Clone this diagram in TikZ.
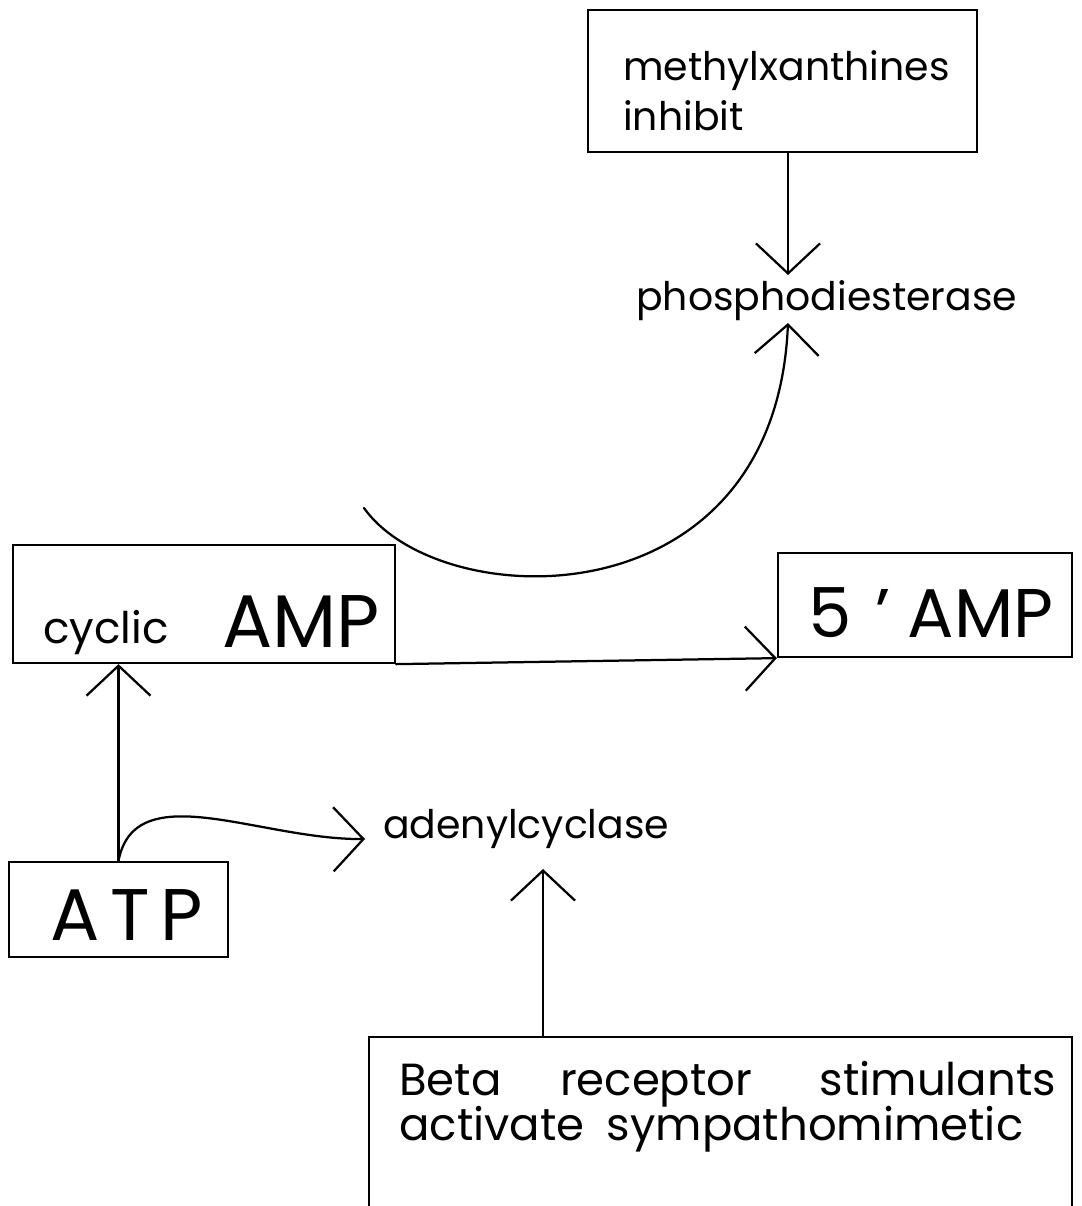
\documentclass[tikz,border=0pt]{standalone}
\usepackage{fontspec}
\setmainfont{Poppins}
\usepackage{tikz}
\usetikzlibrary{arrows.meta,positioning,fit}
\tikzstyle{cbox} = [draw, line width=1.6pt, inner sep=0pt]
\tikzstyle{clbl} = [inner sep=0pt, anchor=base west, font=\fontsize{28}{30}\selectfont]
\tikzstyle{cbig} = [inner sep=0pt, anchor=base west, font=\fontsize{50}{54}\selectfont]
\tikzstyle{clink} = [draw, line width=1.6pt, line cap=round, -{Straight Barb[length=0.75cm, width=1.6cm]}]
\newcommand{\cascbox}[3]{% #1: name; #2: top left; #3: bottom right
  \node[cbox, fit={#2 #3}] (#1) {};
}

\begin{document}
\begin{tikzpicture}[x=0.025cm, y=-0.025cm]
        % 
        \useasboundingbox (0,0) rectangle (1082,1206);
        \fill[white] (0,0) rectangle (1082,1206);
        \cascbox{mxbox}{(588,10)}{(977,152)}
        \cascbox{camp}{(13,545)}{(395,663)}
        \cascbox{amp5}{(778,553)}{(1072,657)}
        \cascbox{atp}{(9,862)}{(228,957)}
        \cascbox{beta}{(369,1037)}{(1072,1240)}
        \node[clbl] (mxa) at (623,80) {methylxanthines};
        \node[clbl] (mxb) at (623,130) {inhibit};
        \node[clbl] (pde) at (636,310) {phosphodiesterase};
        \node[clbl, font=\fontsize{31}{33}\selectfont] (cyc) at (43,643) {cyclic};
        \node[cbig, font=\fontsize{53}{56}\selectfont] (campt) at (222,647) {AMP};
        \node[cbig, font=\fontsize{49}{52}\selectfont] (amp5t) at (808,637) {5\hspace{0.35em}'\hspace{0.25em}AMP};
        \node[cbig, font=\fontsize{52}{56}\selectfont] (atpt) at (50,940) {A\hspace{0.15em}T\hspace{0.15em}P};
        \node[clbl] (adc) at (383,838) {adenylcyclase};
        \node[clbl, font=\fontsize{32}{34}\selectfont] (betaa) at (399,1095) {Beta\hspace{1.3em}receptor\hspace{1.5em}stimulants};
        \node[clbl, font=\fontsize{32}{34}\selectfont] (betab) at (399,1140) {activate\hspace{0.5em}sympathomimetic};
        \coordinate (pdetop) at (788,275);
        \coordinate (pdebot) at (788,323);
        \coordinate (cstart) at (364,508);
        \coordinate (adcin) at (365,839);
        \coordinate (adcbot) at (543,869);
        \draw[clink] (mxbox.south -| pdetop) -- (pdetop);
        \draw[clink] (cstart) .. controls (440,615) and (775,625) .. (pdebot);
        \draw[clink] (camp.south east) -- (amp5.south west);
        \draw[clink] (atp.north) -- (atp.north |- camp.south);
        \draw[clink] (atp.north) .. controls (135,775) and (260,840) .. (adcin);
        \draw[clink] (beta.north -| adcbot) -- (adcbot);
\end{tikzpicture}
\end{document}
